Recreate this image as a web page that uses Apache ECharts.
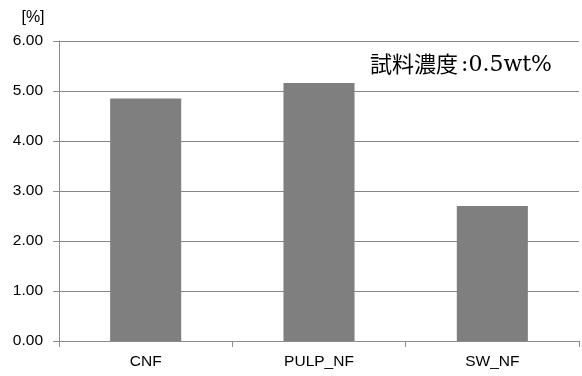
<!DOCTYPE html>
<html>
<head>
<meta charset="utf-8">
<script src="https://cdn.jsdelivr.net/npm/echarts@6/dist/echarts.min.js"></script>
<style>
  html, body { margin: 0; padding: 0; background: #fff; }
  #chart { width: 582px; height: 376px; }
</style>
</head>
<body>
<div id="chart"></div>
<script>
// Sample names and measured values (%)
const categories = ['CNF', 'PULP_NF', 'SW_NF'];
const values = [4.85, 5.16, 2.70];
const yTicks = { min: 0, max: 6, interval: 1 };
const unitLabel = '[%]';
const noteKanji = '試料濃度';
const noteValue = ':0.5wt%';

const sansFont = '"Liberation Sans", Arial, sans-serif';

const chart = echarts.init(document.getElementById('chart'), null, { renderer: 'canvas' });
chart.setOption({
  animation: false,
  backgroundColor: '#ffffff',
  grid: { left: 59, right: 3, top: 41, bottom: 35, containLabel: false },
  xAxis: {
    type: 'category',
    data: categories,
    axisLine: { lineStyle: { color: '#8c8c8c', width: 1 } },
    axisTick: { show: true, length: 6, lineStyle: { color: '#8c8c8c' } },
    axisLabel: { color: '#000', fontFamily: sansFont, fontSize: 15.5, margin: 13 }
  },
  yAxis: {
    type: 'value',
    min: yTicks.min,
    max: yTicks.max,
    interval: yTicks.interval,
    axisLine: { show: true, lineStyle: { color: '#8c8c8c', width: 1 } },
    axisTick: { show: true, length: 6, lineStyle: { color: '#8c8c8c' } },
    splitLine: { lineStyle: { color: '#868686', width: 1 } },
    axisLabel: {
      color: '#000', fontFamily: sansFont, fontSize: 15.5, margin: 16,
      formatter: v => v.toFixed(2)
    }
  },
  series: [{
    type: 'bar',
    data: values,
    barWidth: '41%',
    itemStyle: { color: '#7f7f7f' }
  }],
  graphic: [
    {
      type: 'text', x: 33, y: 18,
      style: {
        text: unitLabel, fill: '#000', align: 'center', verticalAlign: 'middle',
        font: '16px ' + sansFont
      }
    },
    {
      type: 'text', x: 370, y: 64,
      style: {
        text: noteKanji, fill: '#000', align: 'left', verticalAlign: 'middle',
        font: '22px "Noto Sans CJK JP", sans-serif'
      }
    },
    {
      type: 'text', x: 461, y: 65,
      style: {
        text: noteValue, fill: '#000', align: 'left', verticalAlign: 'middle',
        font: '22px "DejaVu Serif", "Liberation Serif", serif'
      }
    }
  ]
});
</script>
</body>
</html>
